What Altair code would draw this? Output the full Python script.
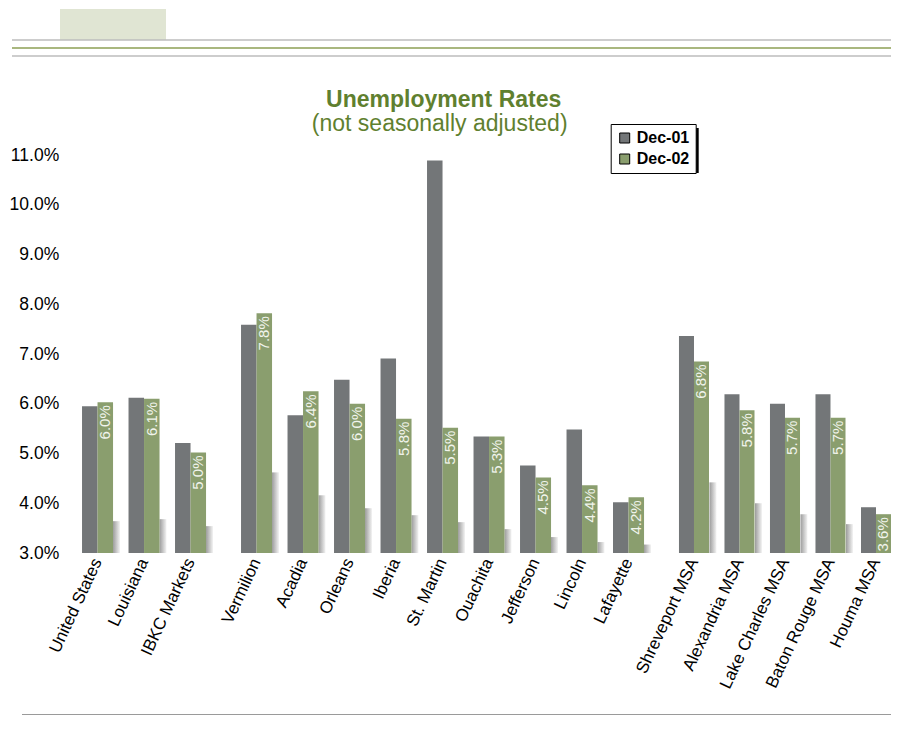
import altair as alt
import pandas as pd

# ---- data ----
group1 = ["United States", "Louisiana", "IBKC Markets"]
group2 = ["Vermilion", "Acadia", "Orleans", "Iberia", "St. Martin",
          "Ouachita", "Jefferson", "Lincoln", "Lafayette"]
group3 = ["Shreveport MSA", "Alexandria MSA", "Lake Charles MSA",
          "Baton Rouge MSA", "Houma MSA"]
names = group1 + group2 + group3

series = ["Dec-01", "Dec-02"]
dec01 = [5.95, 6.12, 5.21, 7.59, 5.77, 6.48, 6.91, 10.89, 5.34, 4.76, 5.48, 4.02,
         7.36, 6.19, 6.00, 6.19, 3.92]
dec02 = [6.03, 6.10, 5.02, 7.82, 6.25, 6.00, 5.70, 5.52, 5.34, 4.52, 4.36, 4.12,
         6.85, 5.87, 5.72, 5.72, 3.78]
dec02_labels = ["6.0%", "6.1%", "5.0%", "7.8%", "6.4%", "6.0%", "5.8%", "5.5%",
                "5.3%", "4.5%", "4.4%", "4.2%", "6.8%", "5.8%", "5.7%", "5.7%", "3.6%"]
# the pale perspective "shadow" wedges next to each pair (Houma's is off-picture)
shadow = [3.64, 3.68, 3.54, 4.62, 4.16, 3.90, 3.76, 3.62, 3.48, 3.32, 3.22, 3.17,
          4.42, 4.00, 3.78, 3.58, None]
y_ticks = [3, 4, 5, 6, 7, 8, 9, 10, 11]

title_text = "Unemployment Rates"
subtitle_text = "(not seasonally adjusted)"

GRAY = "#737678"
GREEN = "#8a9e6e"
TITLE_GREEN = "#5f802f"
FONT = "Liberation Sans"

bars_df = pd.DataFrame(
    [{"name": n, "series": "Dec-01", "value": v} for n, v in zip(names, dec01)]
    + [{"name": n, "series": "Dec-02", "value": v} for n, v in zip(names, dec02)]
)
labels_df = pd.DataFrame({"name": names, "series": "Dec-02", "value": dec02,
                          "label": dec02_labels})
shadow_df = pd.DataFrame({"name": names, "value": shadow}).dropna()
one = pd.DataFrame({"k": [0]})

PAD_OUT = 0.05


def panel(group, first, step, pad_in):
    xenc = alt.X(
        "name:N", sort=group, title=None,
        scale=alt.Scale(domain=group, paddingInner=pad_in, paddingOuter=PAD_OUT),
        axis=alt.Axis(labelAngle=-65, labelFontSize=17, labelFont=FONT,
                      labelColor="black", labelPadding=6, ticks=False,
                      domain=False, labelAlign="right", labelBaseline="middle"),
    )
    yscale = alt.Scale(domain=[3, 11], nice=False, zero=False)
    if first:
        yaxis = alt.Axis(values=y_ticks, labelExpr="format(datum.value, '.1f') + '%'",
                         grid=False, ticks=False, domain=False, labelFontSize=17.5,
                         labelFont=FONT, labelColor="black", labelPadding=21,
                         title=None)
    else:
        yaxis = None
    yenc = alt.Y("value:Q", scale=yscale, axis=yaxis, title=None)
    xoff = alt.XOffset("series:N",
                       scale=alt.Scale(domain=series, paddingInner=0, paddingOuter=0))

    sub_bars = bars_df[bars_df["name"].isin(group)]
    sub_labels = labels_df[labels_df["name"].isin(group)]
    sub_shadow = shadow_df[shadow_df["name"].isin(group)]

    grad = alt.Gradient(gradient="linear", x1=0, x2=1, y1=0, y2=0,
                        stops=[alt.GradientStop(color="#9c9c9c", offset=0),
                               alt.GradientStop(color="#f4f4f4", offset=1)])
    shadows = alt.Chart(sub_shadow).mark_bar(width=7, xOffset=19, color=grad).encode(
        x=xenc, y=yenc, y2=alt.datum(3))

    bars = alt.Chart(sub_bars).mark_bar().encode(
        x=xenc, xOffset=xoff, y=yenc, y2=alt.datum(3),
        color=alt.Color("series:N",
                        scale=alt.Scale(domain=series, range=[GRAY, GREEN]),
                        legend=alt.Legend(
                            title=None, orient="none", legendX=531, legendY=-31,
                            direction="vertical", symbolType="square",
                            symbolSize=100, symbolStrokeColor="black",
                            symbolStrokeWidth=1, labelFont=FONT, labelFontSize=16,
                            labelFontWeight="bold", labelColor="black",
                            padding=6, rowPadding=5, strokeColor="black",
                            fillColor="white", cornerRadius=0, zindex=1,
                            symbolOpacity=1)),
    )

    labels = alt.Chart(sub_labels).mark_text(
        angle=270, align="right", baseline="middle", dx=-3, fontSize=15,
        font=FONT, color="#f1f4ec").encode(
        x=xenc, xOffset=xoff, y=yenc, text="label:N")

    layers = [shadows, bars, labels]
    if first:
        deco = [
            alt.Chart(one).mark_rect(color="#e0e5d3").encode(
                x=alt.value(-19.7), x2=alt.value(86.3),
                y=alt.value(-146), y2=alt.value(-115)),
            alt.Chart(one).mark_rule(color="#bdbdbd", strokeWidth=1.5).encode(
                x=alt.value(-67.7), x2=alt.value(830), y=alt.value(-115)),
            alt.Chart(one).mark_rule(color="#a9b77f", strokeWidth=2).encode(
                x=alt.value(-67.7), x2=alt.value(830), y=alt.value(-107)),
            alt.Chart(one).mark_rule(color="#bdbdbd", strokeWidth=1.5).encode(
                x=alt.value(-67.7), x2=alt.value(830), y=alt.value(-99)),
            alt.Chart(one).mark_rule(color="#9a9a9a", strokeWidth=1.2).encode(
                x=alt.value(-57.7), x2=alt.value(830), y=alt.value(559.5)),
            alt.Chart(one).mark_text(text=title_text, font=FONT, fontSize=23,
                                     fontWeight="bold", color=TITLE_GREEN,
                                     align="center", baseline="alphabetic").encode(
                x=alt.value(364), y=alt.value(-48)),
            alt.Chart(one).mark_text(text=subtitle_text, font=FONT, fontSize=23,
                                     color=TITLE_GREEN, align="center",
                                     baseline="alphabetic").encode(
                x=alt.value(360), y=alt.value(-24)),
            # drop shadow of the legend box
            alt.Chart(one).mark_rect(color="black").encode(
                x=alt.value(535), x2=alt.value(619),
                y=alt.value(-27), y2=alt.value(18)),
        ]
        layers = deco + layers
    return alt.layer(*layers).properties(
        width=alt.Step(step, **{"for": "position"}), height=398)


LEFT = 71.7   # page x of first plot area minus the 8px body margin
TOP = 147     # page y of plot top minus the 8px body margin
chart = alt.hconcat(
    panel(group1, True, 46.5, 0.333),
    panel(group2, False, 46.5, 0.333),
    panel(group3, False, 45.5, 0.34),
    spacing=30, bounds="flush"
).resolve_scale(x="independent", xOffset="independent").properties(
    autosize=alt.AutoSizeParams(type="none"),
    padding={"left": LEFT, "top": TOP, "right": 883 - LEFT, "bottom": 561},
    background="white",
).configure(font=FONT).configure_view(stroke=None)

chart.save("out.html", embed_options={"renderer": "svg", "actions": False})
